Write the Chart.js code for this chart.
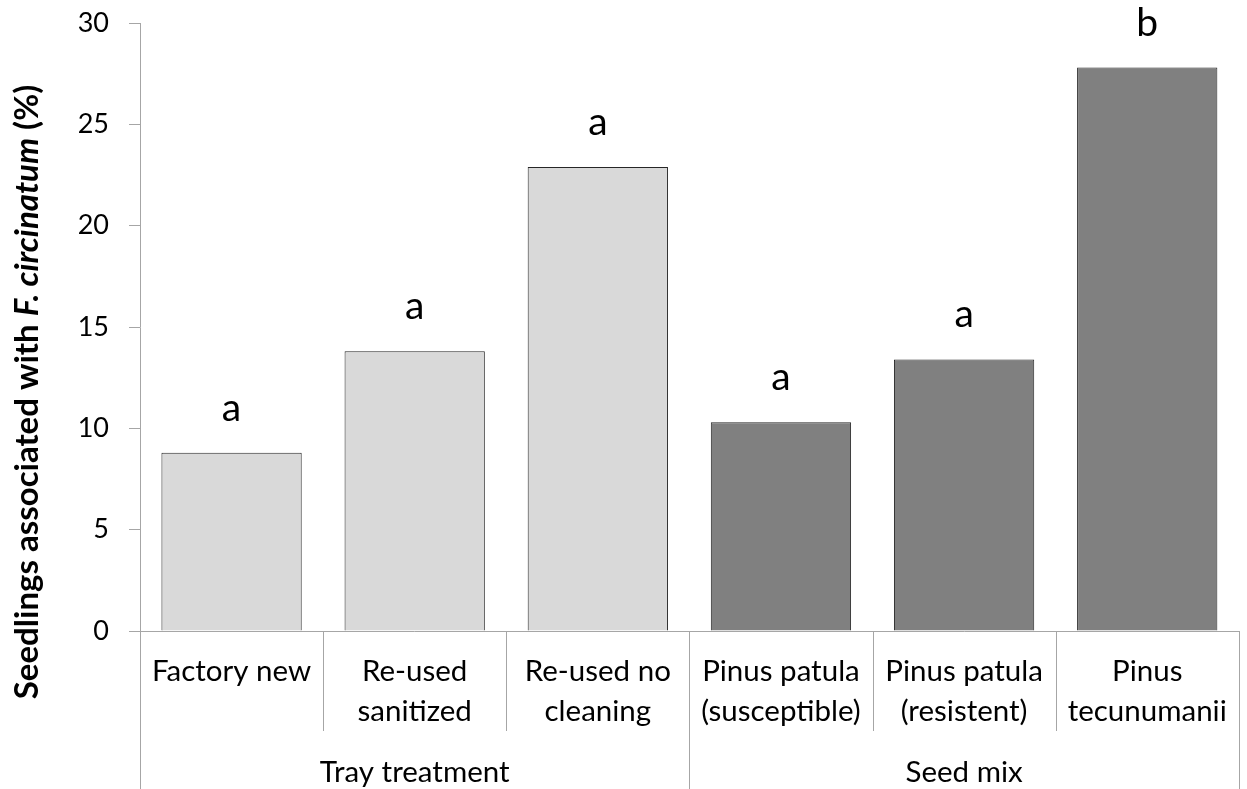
<!DOCTYPE html>
<html>
<head>
<meta charset="utf-8">
<script src="https://cdn.jsdelivr.net/npm/chart.js@4.4.1/dist/chart.umd.min.js"></script>
<style>
  html, body { margin: 0; padding: 0; background: #fff; }
  #wrap { width: 1247px; height: 789px; position: relative; }
</style>
</head>
<body>
<div id="wrap"><canvas id="c"></canvas></div>
<script>
// Categories (two-line labels) and their grouping
const categories = [
  ['Factory new'],
  ['Re-used', 'sanitized'],
  ['Re-used no', 'cleaning'],
  ['Pinus patula', '(susceptible)'],
  ['Pinus patula', '(resistent)'],
  ['Pinus', 'tecunumanii']
];
const groupNames = ['Tray treatment', 'Seed mix'];
const groupSizes = [3, 3];

// Percentage of seedlings associated with F. circinatum
const values = [8.8, 13.8, 22.9, 10.3, 13.4, 27.8];
// Significance letters shown above each bar
const letters = ['a', 'a', 'a', 'a', 'a', 'b'];

const yTicks = [0, 5, 10, 15, 20, 25, 30];

const FONT = 'Lato, "Open Sans", sans-serif';
const AXIS_GRAY = '#a6a6a6';
const LABEL_SIZE = 29.5;
const barColors = values.map((v, i) => i < groupSizes[0] ? '#d9d9d9' : '#808080');

// Letters above bars
const letterPlugin = {
  id: 'letters',
  afterDatasetsDraw(chart) {
    const ctx = chart.ctx;
    const meta = chart.getDatasetMeta(0);
    ctx.save();
    ctx.font = '39px ' + FONT;
    ctx.fillStyle = '#000';
    ctx.textAlign = 'center';
    ctx.textBaseline = 'alphabetic';
    meta.data.forEach((bar, i) => {
      ctx.fillText(letters[i], bar.x, bar.y - 32);
    });
    ctx.restore();
  }
};

// Category separators, group separators and group labels under the x axis
const groupAxisPlugin = {
  id: 'groupAxis',
  afterDraw(chart) {
    const ctx = chart.ctx;
    const xs = chart.scales.x;
    const top = chart.chartArea.bottom;
    const n = categories.length;
    const half = (xs.getPixelForValue(1) - xs.getPixelForValue(0)) / 2;
    const edge = i => i < n ? xs.getPixelForValue(i) - half : xs.getPixelForValue(n - 1) + half;

    ctx.save();
    ctx.strokeStyle = AXIS_GRAY;
    ctx.lineWidth = 1;
    const boundaries = new Set([0]);
    let acc = 0;
    groupSizes.forEach(s => { acc += s; boundaries.add(acc); });
    for (let i = 0; i <= n; i++) {
      const x = Math.round(edge(i)) + 0.5;
      const bottom = boundaries.has(i) ? chart.height : top + 100;
      ctx.beginPath();
      ctx.moveTo(x, top);
      ctx.lineTo(x, bottom);
      ctx.stroke();
    }

    ctx.font = LABEL_SIZE + 'px ' + FONT;
    ctx.fillStyle = '#000';
    ctx.textAlign = 'center';
    ctx.textBaseline = 'middle';
    let start = 0;
    groupNames.forEach((g, k) => {
      const x0 = edge(start), x1 = edge(start + groupSizes[k]);
      ctx.fillText(g, (x0 + x1) / 2, top + 141);
      start += groupSizes[k];
    });
    ctx.restore();
  }
};

// Y axis title with italic species name
const yTitlePlugin = {
  id: 'yTitle',
  afterDraw(chart) {
    const ctx = chart.ctx;
    const parts = [
      ['Seedlings associated with ', 'bold 33px ' + FONT],
      ['F. circinatum', 'italic bold 33px ' + FONT],
      [' (%)', 'bold 33px ' + FONT]
    ];
    ctx.save();
    let total = 0;
    parts.forEach(p => { ctx.font = p[1]; total += ctx.measureText(p[0]).width; });
    ctx.translate(38, 392);
    ctx.rotate(-Math.PI / 2);
    ctx.fillStyle = '#000';
    ctx.textAlign = 'left';
    ctx.textBaseline = 'alphabetic';
    let x = -total / 2;
    parts.forEach(p => {
      ctx.font = p[1];
      ctx.fillText(p[0], x, 0);
      x += ctx.measureText(p[0]).width;
    });
    ctx.restore();
  }
};

new Chart(document.getElementById('c'), {
  type: 'bar',
  data: {
    labels: categories,
    datasets: [{
      data: values,
      backgroundColor: barColors,
      borderColor: '#262626',
      borderWidth: 1,
      categoryPercentage: 1,
      barPercentage: 0.766
    }]
  },
  options: {
    responsive: true,
    maintainAspectRatio: false,
    animation: false,
    events: [],
    layout: { padding: { top: 23, right: 3, left: 0, bottom: 0 } },
    plugins: {
      legend: { display: false },
      tooltip: { enabled: false }
    },
    scales: {
      x: {
        type: 'category',
        offset: true,
        grid: { display: false, drawTicks: false },
        border: { display: true, color: AXIS_GRAY, width: 1 },
        ticks: {
          color: '#000',
          font: { family: FONT, size: LABEL_SIZE, lineHeight: 40 / LABEL_SIZE },
          padding: 20,
          maxRotation: 0,
          autoSkip: false
        },
        afterFit(scale) { scale.height = 158; }
      },
      y: {
        min: 0,
        max: 30,
        afterBuildTicks(scale) { scale.ticks = yTicks.map(v => ({ value: v })); },
        grid: {
          drawOnChartArea: false,
          drawTicks: true,
          tickLength: 11,
          color: AXIS_GRAY
        },
        border: { display: true, color: AXIS_GRAY, width: 1 },
        ticks: {
          color: '#000',
          font: { family: FONT, size: 27 },
          padding: 20
        },
        afterFit(scale) {
          scale.width = 140;
          scale.paddingTop = 0;
          scale.paddingBottom = 0;
        }
      }
    }
  },
  plugins: [letterPlugin, groupAxisPlugin, yTitlePlugin]
});
</script>
</body>
</html>
